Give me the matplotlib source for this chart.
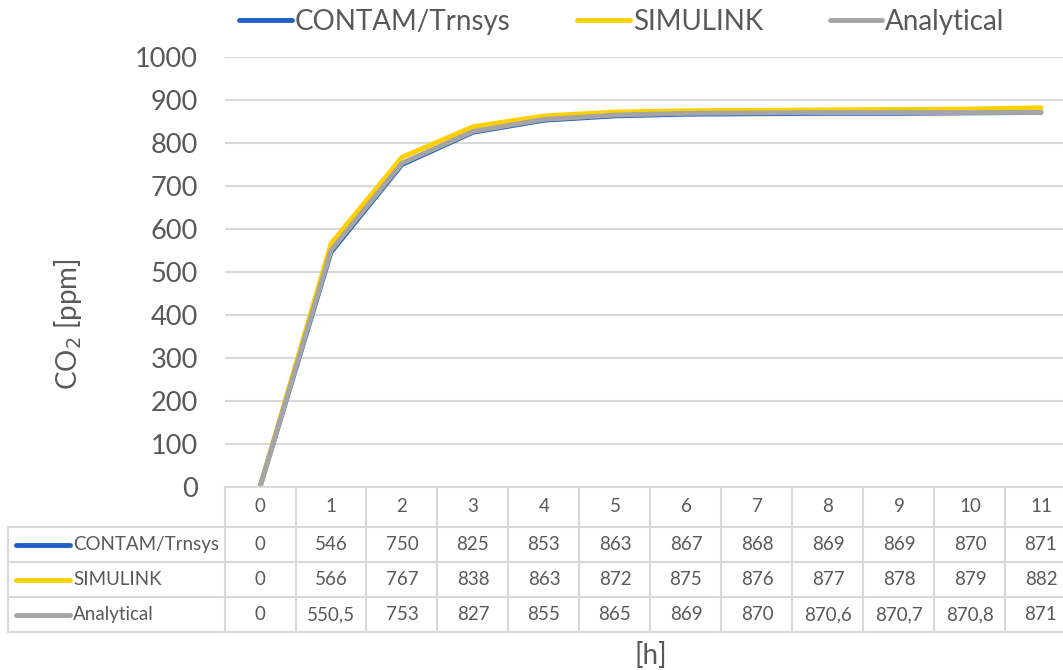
import matplotlib.pyplot as plt
import matplotlib.transforms as mtransforms
from matplotlib.lines import Line2D

plt.rcParams['font.family'] = ['Lato', 'DejaVu Sans']

# hours and CO2 concentration [ppm] per model
hours = [0, 1, 2, 3, 4, 5, 6, 7, 8, 9, 10, 11]
contam = [0, 546, 750, 825, 853, 863, 867, 868, 869, 869, 870, 871]
simulink = [0, 566, 767, 838, 863, 872, 875, 876, 877, 878, 879, 882]
analytical = [0, 550.5, 753, 827, 855, 865, 869, 870, 870.6, 870.7, 870.8, 871]

series_names = ['CONTAM/Trnsys', 'SIMULINK', 'Analytical']
series_values = [contam, simulink, analytical]
series_colors = ['#1f5fc8', '#ffd000', '#a5a5a5']

text_col = '#595959'
grid_col = '#d9d9d9'

W, H = 1063, 670
fig = plt.figure(figsize=(W / 100, H / 100), dpi=100)

# plot area (in pixels): x 224.5..1076.5, y 57..487 -> runs off the right edge
left, right, top, bottom = 224.5, 1076.5, 57, 487
ax = fig.add_axes([left / W, 1 - bottom / H, (right - left) / W, (bottom - top) / H])

for name, vals, col in zip(series_names, series_values, series_colors):
    ax.plot(hours, vals, color=col, lw=3.5, label=name, solid_capstyle='round')

ax.set_xlim(-0.5, 11.5)
ax.set_ylim(0, 1000)
ax.set_yticks(range(0, 1001, 100))
ax.set_xticks([])
ax.tick_params(axis='y', length=0, labelsize=19.5, labelcolor=text_col, pad=19)
ax.yaxis.grid(True, color=grid_col, lw=1.5)
ax.set_axisbelow(True)
for s in ax.spines.values():
    s.set_visible(False)


def fy(py):
    return 1 - py / H


fig.text(68 / W, fy(324), 'CO$_2$ [ppm]', rotation=90, ha='center', va='center',
         fontsize=20, color=text_col)

# legend on top
leg = ax.legend(loc='center', bbox_to_anchor=(622 / W, fy(22)),
                bbox_transform=fig.transFigure, ncol=3, frameon=False,
                fontsize=20, handlelength=1.9, handletextpad=0.1,
                columnspacing=2.4)
for t in leg.get_texts():
    t.set_color(text_col)

# data table below the plot, x follows the category scale, y in figure pixels
trans = mtransforms.blended_transform_factory(ax.transData, fig.transFigure)
ftrans = fig.transFigure

row_edges = [487, 527, 562, 597, 632]
x_lo, x_hi = -0.5, 11.5
lkw = dict(color=grid_col, lw=1.5, clip_on=False)

# horizontal borders
fig.add_artist(Line2D([x_lo, x_hi], [fy(row_edges[0])] * 2, transform=trans, **lkw))
for py in row_edges[1:]:
    fig.add_artist(Line2D([8 / W, 1.02], [fy(py)] * 2, transform=ftrans, **lkw))
# vertical borders
fig.add_artist(Line2D([8 / W, 8 / W], [fy(row_edges[1]), fy(row_edges[-1])],
                      transform=ftrans, **lkw))
for k in range(len(hours) + 1):
    xb = k - 0.5
    fig.add_artist(Line2D([xb, xb], [fy(row_edges[0]), fy(row_edges[-1])],
                          transform=trans, **lkw))

# header row
for h in hours:
    fig.text(h, fy((row_edges[0] + row_edges[1]) / 2), str(h), transform=trans,
             ha='center', va='center', fontsize=13.5, color=text_col)

# series rows
for i, (name, vals, col) in enumerate(zip(series_names, series_values, series_colors)):
    yc = fy((row_edges[i + 1] + row_edges[i + 2]) / 2)
    fig.add_artist(Line2D([16 / W, 70 / W], [yc, yc], transform=ftrans,
                          color=col, lw=3.5, solid_capstyle='round'))
    fig.text(73 / W, yc, name, transform=ftrans, ha='left', va='center',
             fontsize=13.5, color=text_col)
    for h, v in zip(hours, vals):
        label = f'{v:g}'.replace('.', ',')
        fig.text(h, yc, label, transform=trans, ha='center', va='center',
                 fontsize=13.5, color=text_col)

fig.text((left + right) / 2 / W, fy(655), '[h]', ha='center', va='center',
         fontsize=20, color=text_col)

fig.savefig('out.png', dpi=100)
